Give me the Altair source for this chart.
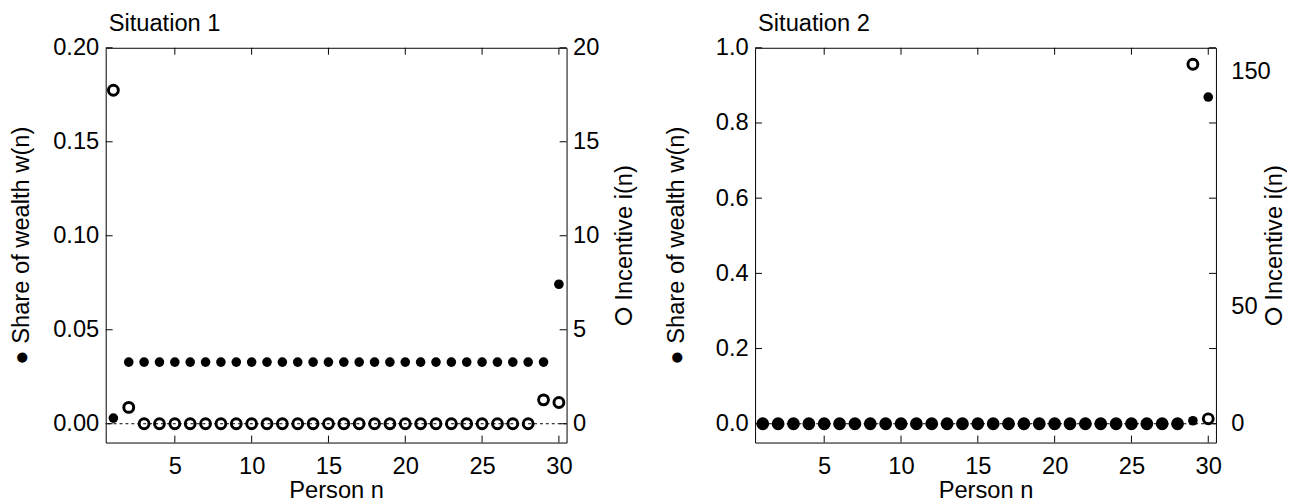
import altair as alt
import pandas as pd

FONT = "Liberation Sans"
W, H = 467, 400
TL = 7  # inward tick length

persons = list(range(1, 31))
x_ticks = [5, 10, 15, 20, 25, 30]

# Situation 1
s1_wealth = [0.003, 0.0328, 0.0328, 0.0328, 0.0328, 0.0328, 0.0328, 0.0328, 0.0328, 0.0328,
             0.0328, 0.0328, 0.0328, 0.0328, 0.0328, 0.0328, 0.0328, 0.0328, 0.0328, 0.0328,
             0.0328, 0.0328, 0.0328, 0.0328, 0.0328, 0.0328, 0.0328, 0.0328, 0.0328, 0.0742]
s1_incentive = [17.74, 0.87, 0.0, 0.0, 0.0, 0.0, 0.0, 0.0, 0.0, 0.0,
                0.0, 0.0, 0.0, 0.0, 0.0, 0.0, 0.0, 0.0, 0.0, 0.0,
                0.0, 0.0, 0.0, 0.0, 0.0, 0.0, 0.0, 0.0, 1.27, 1.13]
s1_wealth_ticks = [0.0, 0.05, 0.10, 0.15, 0.20]
s1_incentive_ticks = [0, 5, 10, 15, 20]

# Situation 2
s2_wealth = [0.0, 0.0, 0.0, 0.0, 0.0, 0.0, 0.0, 0.0, 0.0, 0.0,
             0.0, 0.0, 0.0, 0.0, 0.0, 0.0, 0.0, 0.0, 0.0, 0.0,
             0.0, 0.0, 0.0, 0.0, 0.0, 0.0, 0.0, 0.0, 0.008, 0.869]
s2_incentive = [0.0, 0.0, 0.0, 0.0, 0.0, 0.0, 0.0, 0.0, 0.0, 0.0,
                0.0, 0.0, 0.0, 0.0, 0.0, 0.0, 0.0, 0.0, 0.0, 0.0,
                0.0, 0.0, 0.0, 0.0, 0.0, 0.0, 0.0, 0.0, 153.0, 2.1]
s2_wealth_ticks = [0.0, 0.2, 0.4, 0.6, 0.8, 1.0]
s2_incentive_ticks = [0, 50, 150]


def panel(title, wealth, incentive, w_dom, w_ticks, w_fmt, i_dom, i_ticks,
          lt_pad, rl_pad, rt_pad):
    df = pd.DataFrame({"n": persons, "w": wealth, "i": incentive})
    xs = alt.Scale(domain=[0.5, 30.5], nice=False, zero=False)
    ws = alt.Scale(domain=w_dom, nice=False, zero=False)
    iscale = alt.Scale(domain=i_dom, nice=False, zero=False)

    x_axis = alt.Axis(values=x_ticks, ticks=False, domain=False, grid=False,
                      title="Person n", labelPadding=12, titlePadding=1)
    w_axis = alt.Axis(orient="left", values=w_ticks, format=w_fmt, ticks=False,
                      domain=False, grid=False, title="\u25cf Share of wealth w(n)",
                      labelPadding=7, titlePadding=lt_pad)
    i_axis = alt.Axis(orient="right", values=i_ticks, ticks=False, domain=False,
                      grid=False, title="\u2b58 Incentive i(n)", titleAngle=270,
                      titleBaseline="top", labelPadding=rl_pad, titlePadding=rt_pad)

    def X(field):
        return alt.X(field, type="quantitative", scale=xs, axis=x_axis)

    def Yw(field):
        return alt.Y(field, type="quantitative", scale=ws, axis=w_axis)

    zero = alt.Chart(pd.DataFrame({"z": [0.0]})).mark_rule(
        color="black", strokeWidth=1, strokeDash=[3, 3]
    ).encode(y=Yw("z"))

    wt = pd.DataFrame({"v": w_ticks})
    tick_l = alt.Chart(wt).mark_rule(color="black", strokeWidth=1).encode(
        y=Yw("v"), x=alt.value(0), x2=alt.value(TL))
    tick_r = alt.Chart(wt).mark_rule(color="black", strokeWidth=1).encode(
        y=Yw("v"), x=alt.value(W - TL), x2=alt.value(W))

    xt = pd.DataFrame({"t": x_ticks})
    tick_t = alt.Chart(xt).mark_rule(color="black", strokeWidth=1).encode(
        x=X("t"), y=alt.value(0), y2=alt.value(TL))
    tick_b = alt.Chart(xt).mark_rule(color="black", strokeWidth=1).encode(
        x=X("t"), y=alt.value(H - TL), y2=alt.value(H))

    filled = alt.Chart(df).mark_circle(size=95, color="black", opacity=1).encode(
        x=X("n"), y=Yw("w"))

    left = alt.layer(zero, tick_l, tick_r, tick_t, tick_b, filled)

    openc = alt.Chart(df).mark_point(
        shape="circle", filled=False, size=100, strokeWidth=3, color="black", opacity=1
    ).encode(
        x=X("n"),
        y=alt.Y("i:Q", scale=iscale, axis=i_axis),
    )

    return alt.layer(left, openc).resolve_scale(y="independent").properties(
        width=W, height=H,
        title=alt.TitleParams(text=title, anchor="start", frame="group", fontSize=24,
                              font=FONT, fontWeight="normal", color="black",
                              offset=0, dx=3),
    )


p1 = panel("Situation 1", s1_wealth, s1_incentive, [-0.01, 0.20], s1_wealth_ticks, ".2f",
           [-1, 20], s1_incentive_ticks, 20, 6, 14)
p2 = panel("Situation 2", s2_wealth, s2_incentive, [-0.05, 1.0], s2_wealth_ticks, ".1f",
           [-8, 160], s2_incentive_ticks, 27, 15, -8)

chart = alt.hconcat(p1, p2, spacing=27).properties(padding=0).configure_view(
    stroke="black", strokeWidth=1
).configure_axis(
    labelFont=FONT, titleFont=FONT, labelFontSize=24, titleFontSize=24,
    titleFontWeight="normal", labelColor="black", titleColor="black"
)

chart.save("out.html", embed_options={"renderer": "svg", "actions": False})
